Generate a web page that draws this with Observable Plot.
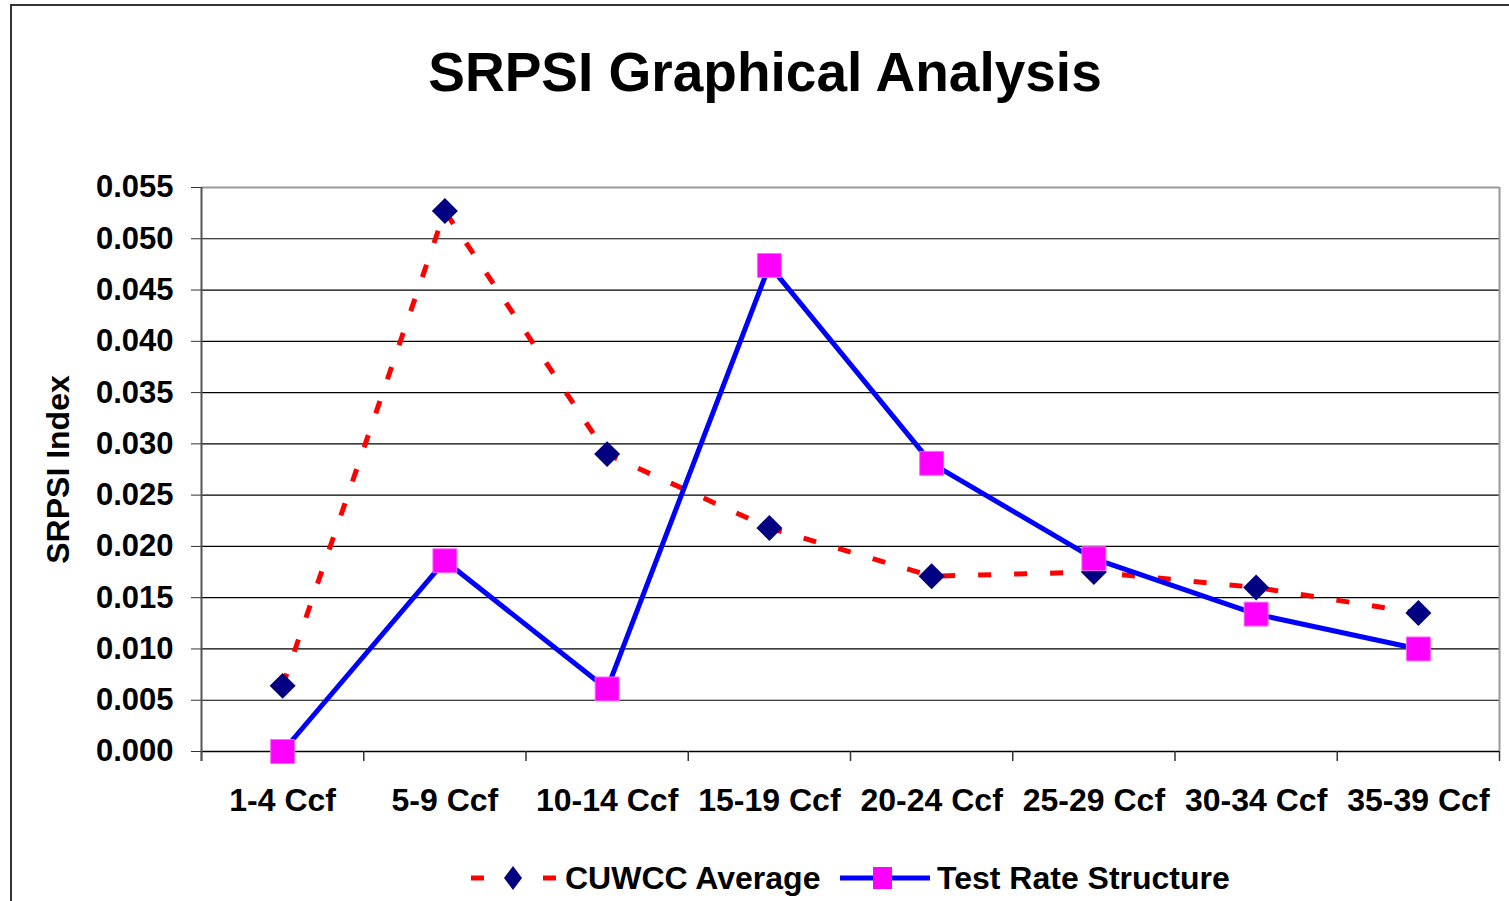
<!DOCTYPE html>
<html>
<head>
<meta charset="utf-8">
<script src="https://cdn.jsdelivr.net/npm/d3@7"></script>
<script src="https://cdn.jsdelivr.net/npm/@observablehq/plot@0.6"></script>
<style>
html, body { margin: 0; padding: 0; background: #fff; overflow: hidden; }
body { width: 1509px; height: 901px; position: relative; font-family: "Liberation Sans", Arial, sans-serif; font-weight: bold; color: #000; }
#frame { position: absolute; left: 10px; top: 4px; width: 1700px; height: 1100px; border: 2px solid #333; box-sizing: border-box; }
#title { position: absolute; left: 0; width: 1530px; top: 45px; text-align: center; font-size: 55px; line-height: 1; }
#chart { position: absolute; left: 0; top: 0; }
#legend { position: absolute; left: 0; top: 858px; height: 40px; width: 1509px; }
#legend .item { position: absolute; top: 0; height: 40px; display: flex; align-items: center; }
#legend .lbl { font-size: 32px; line-height: 40px; white-space: nowrap; }
</style>
</head>
<body>
<div id="frame"></div>
<div id="chart"></div>
<div id="title"></div>
<div id="legend"></div>
<script>
// ---- data ----
const chartTitle = "SRPSI Graphical Analysis";
const yLabel = "SRPSI Index";
const categories = ["1-4 Ccf", "5-9 Ccf", "10-14 Ccf", "15-19 Ccf", "20-24 Ccf", "25-29 Ccf", "30-34 Ccf", "35-39 Ccf"];
const seriesNames = ["CUWCC Average", "Test Rate Structure"];
const cuwcc = [0.0064, 0.0527, 0.0290, 0.0218, 0.0171, 0.0175, 0.0160, 0.0135];
const testRate = [0.0000, 0.0186, 0.0061, 0.0474, 0.0281, 0.0188, 0.0134, 0.0100];
const yTicks = [0, 0.005, 0.010, 0.015, 0.020, 0.025, 0.030, 0.035, 0.040, 0.045, 0.050, 0.055];

// ---- table for the library ----
const rows = categories.map((c, i) => ({cat: c, pos: i + 0.5, cuwcc: cuwcc[i], test: testRate[i]}));
const boundaries = d3.range(categories.length + 1);
const yMax = yTicks[yTicks.length - 1];

document.getElementById("title").textContent = chartTitle;

const chart = Plot.plot({
  width: 1509,
  height: 901,
  marginLeft: 201,
  marginRight: 10,
  marginTop: 187,
  marginBottom: 150,
  x: {type: "linear", domain: [0, categories.length], axis: null},
  y: {domain: [0, yMax], axis: null},
  style: {fontFamily: "'Liberation Sans', Arial, sans-serif", fontWeight: "bold", background: "transparent", color: "#000"},
  marks: [
    Plot.ruleY(yTicks.filter(v => v > 0 && v < yMax), {stroke: "#000", strokeWidth: 1.2}),
    Plot.ruleY([yMax], {stroke: "#999", strokeWidth: 2}),
    Plot.ruleX([categories.length], {y1: 0, y2: yMax, stroke: "#999", strokeWidth: 2}),
    Plot.ruleY([0], {stroke: "#000", strokeWidth: 1.5}),
    Plot.ruleX(boundaries, {y1: 0, y2: 0, insetBottom: -10, stroke: "#333", strokeWidth: 1.5}),
    Plot.ruleX([0], {y1: yMax, y2: 0, insetBottom: -10, stroke: "#555", strokeWidth: 2}),
    Plot.axisY({ticks: yTicks, tickFormat: d3.format(".3f"), tickSize: 10, tickPadding: 18, fontSize: 31, label: null, stroke: "#333"}),
    Plot.text(rows, {x: "pos", frameAnchor: "bottom", dy: 59, text: "cat", fontSize: 32}),
    Plot.text([yLabel], {frameAnchor: "left", dx: -143, rotate: -90, textAnchor: "middle", fontSize: 32, text: d => d}),
    Plot.line(rows, {x: "pos", y: "cuwcc", stroke: "#FF0000", strokeWidth: 5, strokeDasharray: "13,23", strokeLinecap: "butt"}),
    Plot.dot(rows, {x: "pos", y: "cuwcc", symbol: "diamond2", r: 11.7, fill: "#000080", stroke: "none"}),
    Plot.line(rows, {x: "pos", y: "test", stroke: "#0000FF", strokeWidth: 5}),
    Plot.dot(rows, {x: "pos", y: "test", symbol: "square", r: 13.5, fill: "#FF00FF", stroke: "#FF66FF", strokeWidth: 1})
  ]
});
document.getElementById("chart").appendChild(chart);

// ---- legend ----
const legend = document.getElementById("legend");
function addItem(left, html) {
  const d = document.createElement("div");
  d.className = "item";
  d.style.left = left + "px";
  d.innerHTML = html;
  legend.appendChild(d);
}
addItem(471, `<svg width="86" height="40"><line x1="0" x2="13" y1="20" y2="20" stroke="#FF0000" stroke-width="5"/><line x1="72" x2="85" y1="20" y2="20" stroke="#FF0000" stroke-width="5"/><polygon points="42,8 51,20 42,32 33,20" fill="#000080"/></svg>`);
addItem(565, `<span class="lbl">${seriesNames[0]}</span>`);
addItem(840, `<svg width="91" height="40"><line x1="0" x2="90" y1="20" y2="20" stroke="#0000FF" stroke-width="5"/><rect x="33" y="9" width="19" height="22" fill="#FF00FF"/></svg>`);
addItem(937, `<span class="lbl">${seriesNames[1]}</span>`);
</script>
</body>
</html>
